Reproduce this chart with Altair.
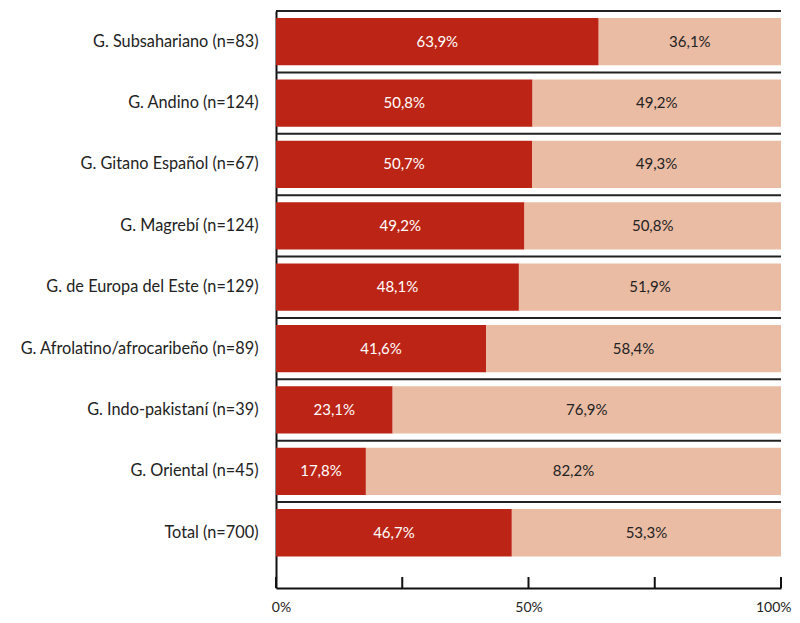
import altair as alt
import pandas as pd

categories = [
    "G. Subsahariano (n=83)",
    "G. Andino (n=124)",
    "G. Gitano Español (n=67)",
    "G. Magrebí (n=124)",
    "G. de Europa del Este (n=129)",
    "G. Afrolatino/afrocaribeño (n=89)",
    "G. Indo-pakistaní (n=39)",
    "G. Oriental (n=45)",
    "Total (n=700)",
]
dark_values = [63.9, 50.8, 50.7, 49.2, 48.1, 41.6, 23.1, 17.8, 46.7]
light_values = [36.1, 49.2, 49.3, 50.8, 51.9, 58.4, 76.9, 82.2, 53.3]
x_ticks = [0, 25, 50, 75, 100]
x_labels = [0, 50, 100]

DARK = "#bc2516"
LIGHT = "#eabca4"
FONT = "Lato"

rows = []
for c, a, b in zip(categories, dark_values, light_values):
    rows.append({"cat": c, "seg": "a", "v": a, "start": 0.0, "end": a})
    rows.append({"cat": c, "seg": "b", "v": b, "start": a, "end": a + b})
df = pd.DataFrame(rows)
df["mid"] = (df["start"] + df["end"]) / 2
df["label"] = df["v"].map(lambda v: f"{v:.1f}".replace(".", ",") + "%")

W, H = 505, 577

yscale = alt.Scale(domain=categories, paddingInner=0, paddingOuter=0.2, align=0)
xscale = alt.Scale(domain=[0, 100], nice=False)

bars = alt.Chart(df).mark_bar(height=alt.RelativeBandSize(band=0.77)).encode(
    y=alt.Y("cat:N", scale=yscale, sort=categories,
            axis=alt.Axis(title=None, ticks=False, domain=True, domainColor="#111",
                          domainWidth=2, labelPadding=18, labelFont=FONT,
                          labelFontSize=16.3, labelColor="#222",
                          grid=False, labelLimit=300)),
    x=alt.X("start:Q", scale=xscale,
            axis=alt.Axis(title=None, values=x_labels, ticks=False, grid=False,
                          domainColor="#111", domainWidth=2, labelPadding=12,
                          labelFont=FONT, labelFontSize=14, labelColor="#222",
                          labelFlush=False, labelOverlap=False,
                          labelAlign={"condition": {"test": "datum.value === 100", "value": "right"},
                                      "value": "center"},
                          labelOffset={"condition": [
                              {"test": "datum.value === 0", "value": 5},
                              {"test": "datum.value === 100", "value": 10}],
                              "value": 0},
                          labelExpr="datum.value + '%'")),
    x2="end:Q",
    color=alt.Color("seg:N", scale=alt.Scale(domain=["a", "b"], range=[DARK, LIGHT]),
                    legend=None),
)

texts = alt.Chart(df).mark_text(font=FONT, fontSize=15).encode(
    y=alt.Y("cat:N", scale=yscale, sort=categories),
    x=alt.X("mid:Q", scale=xscale),
    text="label:N",
    color=alt.Color("seg:N", scale=alt.Scale(domain=["a", "b"], range=["#ffffff", "#222222"]),
                    legend=None),
)

grid_df = pd.DataFrame({"cat": categories})
grid = alt.Chart(grid_df).mark_rule(color="#222", strokeWidth=2).encode(
    y=alt.Y("cat:N", scale=yscale, sort=categories, bandPosition=0),
    x=alt.datum(0),
    x2=alt.datum(100),
)

tick_df = pd.DataFrame({"t": x_ticks})
ticks = alt.Chart(tick_df).mark_rule(color="#111", strokeWidth=2).encode(
    x=alt.X("t:Q", scale=xscale),
    y=alt.value(H - 11),
    y2=alt.value(H),
)

chart = alt.layer(bars, grid, texts, ticks).resolve_scale(color="independent").properties(
    width=W, height=H,
    autosize=alt.AutoSizeParams(type="none"),
    padding={"left": 268, "top": 3, "right": 11, "bottom": 26},
).configure_view(stroke=None)

chart.save("out.html", embed_options={"renderer": "svg", "actions": False})
